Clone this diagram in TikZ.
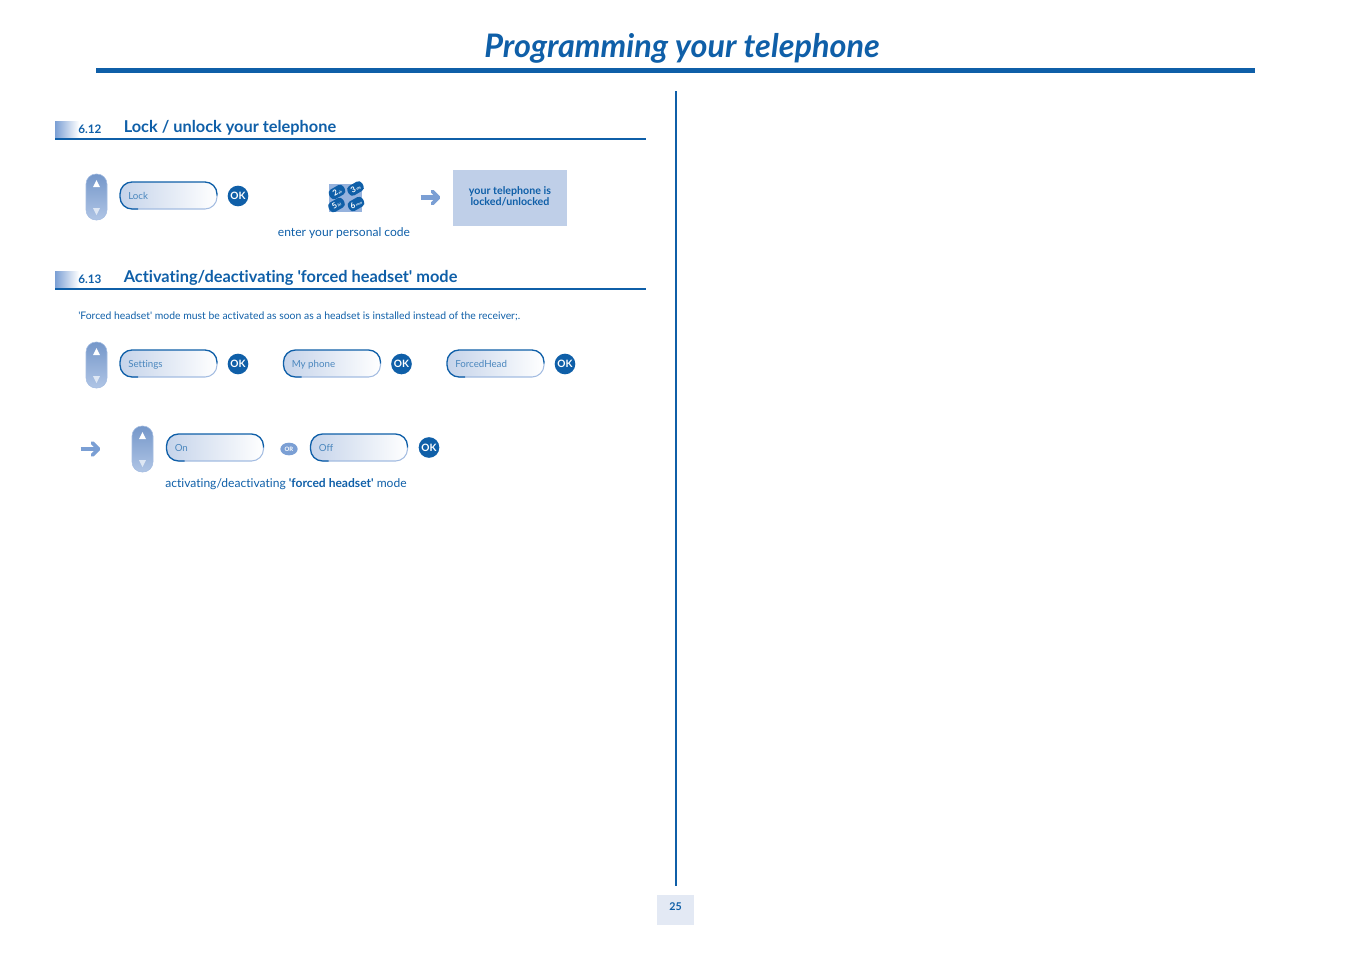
\documentclass[tikz,border=0pt]{standalone}
\usepackage{fontspec}
\setmainfont[Ligatures={NoCommon}]{Lato}
\setsansfont[Ligatures={NoCommon}]{Lato}
\usetikzlibrary{arrows.meta,positioning,shapes.geometric}
\definecolor{phoneblue}{HTML}{0F5FA8}
\definecolor{softblue}{HTML}{7B9FD4}
\definecolor{boxblue}{HTML}{BFCFE8}
\definecolor{pageblue}{HTML}{E3E9F4}
\newcommand{\sq}{\textquotesingle}
\tikzset{
	bodytext/.style={text=phoneblue, inner sep=0, anchor=west, font=\fontsize{9.05}{10}\selectfont},
	headtext/.style={text=phoneblue, inner sep=0, anchor=west, font=\fontsize{12.25}{14}\selectfont\bfseries},
	numtext/.style={text=phoneblue, inner sep=0, anchor=west, font=\fontsize{8.8}{10}\selectfont\bfseries},
	pilltext/.style={text=phoneblue!75, inner sep=0, anchor=west, text height=5.2pt, text depth=0.6pt, font=\fontsize{7.3}{8}\selectfont\sffamily},
	okbutton/.style={circle, fill=phoneblue, minimum size=15.5pt, inner sep=0, text=white, font=\fontsize{7.6}{8}\selectfont\bfseries},
	keycap/.style={rounded corners=3pt, fill=phoneblue, minimum width=12.5pt, minimum height=8pt, inner sep=0, rotate=30, text=white, font=\fontsize{6}{6}\selectfont\bfseries},
	pics/scroller/.style={code={
		\shade[top color=softblue!95!black, bottom color=softblue!60, rounded corners=7.5pt, draw=softblue!70] (-10.5,-23) rectangle (10.5,23);
		\fill[white] (-3.5,-10) -- (3.5,-10) -- (0,-17) -- cycle;
		\fill[white!75!softblue] (-3.5,11) -- (3.5,11) -- (0,18) -- cycle;
	}},
	pics/pill/.style={code={
		\shade[left color=boxblue!90, right color=white, rounded corners=9pt] (0,0) rectangle (97,27);
		\draw[softblue!70, line width=0.8pt, rounded corners=9pt] (12,27) -- (97,27) -- (97,13.5);
		\draw[phoneblue, line width=1pt, rounded corners=9pt] (18,27) -- (0,27) -- (0,0) -- (97,0) -- (97,13.5);
	}},
	pics/arrowicon/.style={code={
		\draw[softblue, line width=3.2pt] (-10,0) -- (7,0);
		\draw[softblue, line width=2.8pt, line cap=round, line join=round] (2,-6) -- (8,0) -- (2,6);
	}}
}
\begin{document}
\begin{tikzpicture}[x=0.75pt,y=-0.75pt]
	\useasboundingbox (0,0) rectangle (1351,954);
	% page head
	\node[text=phoneblue, inner sep=0, font=\fontsize{24.3}{28}\selectfont\bfseries\itshape] (title) at (682,48.5){Programming your telephone};
	\fill[phoneblue] (96,68) rectangle (1255,73);
	\fill[phoneblue] (675,91) rectangle (677,886);
	\node[fill=pageblue, minimum width=27.75pt, minimum height=22.5pt, inner sep=0] (page) at (675.5,910){};
	\node[text=phoneblue, inner sep=0, font=\fontsize{8}{9}\selectfont\bfseries] (pagenum) at (675.5,906.5){25};
	% section heads
	\foreach \y/\N/\T in {121/6.12/{Lock / unlock your telephone},271/6.13/{Activating/deactivating \sq forced headset\sq{} mode}}
		{
			\shade[left color=softblue, right color=white] (55,\y) rectangle (79,\y+17);
			\fill[phoneblue] (55,\y+17) rectangle (646,\y+19);
			\node[numtext] () at (78,\y+8){\N};
			\node[headtext] () at (123.5,\y+7){\T};
		}
	% lock
	\pic at (96.5,197) {scroller};
	\pic at (120,182) {pill};
	\node[pilltext] (lock) at (128,196){Lock};
	\node[okbutton] (oklock) at (238,196){OK};
	\fill[softblue!80] (329,184) rectangle (362,212);
	\foreach \x/\y/\K/\L in {337/192/2/ab,355.5/188.5/3/def,336.5/205/5/jkl,356/204/6/mno}
		{
			\node[keycap] (key\K) at (\x,\y){\K\fontsize{2.6}{3}\selectfont\,\L};
		}
	\node[bodytext, anchor=center] (code) at (344,233){enter your personal code};
	\pic at (430.5,197.5) {arrowicon};
	\node[fill=boxblue, minimum width=85.5pt, minimum height=42pt, inner sep=0] (status) at (510,198){};
	\node[text=phoneblue, align=center, inner sep=0, font=\fontsize{8}{8.2}\selectfont\bfseries] (statustext) at (510,196){your telephone is\\locked/unlocked};
	% forced headset
	\node[bodytext, font=\fontsize{7.8}{9}\selectfont] (note) at (78,316.5){\sq Forced headset\sq{} mode must be activated as soon as a headset is installed instead of the receiver;.};
	\pic at (96.5,365) {scroller};
	\foreach \x/\T/\n in {120/Settings/settings,283.5/My phone/myphone,447/ForcedHead/forced}
		{
			\pic at (\x,350) {pill};
			\node[pilltext] (\n) at (\x+8,364){\T};
			\node[okbutton] (ok\n) at (\x+118,364){OK};
		}
	\pic at (90.5,449) {arrowicon};
	\pic at (142.5,449) {scroller};
	\pic at (166.5,434) {pill};
	\node[pilltext] (on) at (174.5,448){On};
	\node[fill=softblue, ellipse, minimum width=13pt, minimum height=9.5pt, inner sep=0, text=white, font=\fontsize{4.5}{5}\selectfont\bfseries] (or) at (289,449){OR};
	\pic at (310.5,434) {pill};
	\node[pilltext] (off) at (318.5,448){Off};
	\node[okbutton] (okoff) at (429,447.5){OK};
	\node[bodytext] (mode) at (165,484){activating/deactivating \textbf{\sq forced headset\sq} mode};
\end{tikzpicture}
\end{document}
